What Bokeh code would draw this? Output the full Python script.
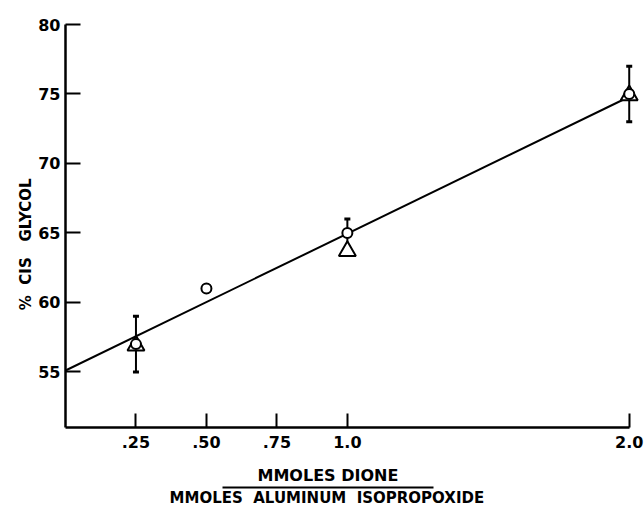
from bokeh.plotting import figure
from bokeh.models import LinearAxis, FixedTicker, Range1d
from bokeh.embed import file_html
from bokeh.resources import INLINE

# ---- data ----
ratio_circle = [0.25, 0.50, 1.0, 2.0]
cis_circle = [57.0, 61.0, 65.0, 75.0]
ratio_triangle = [0.25, 1.0, 2.0]
cis_triangle = [56.9, 63.7, 74.9]
err_x = [0.25, 1.0, 2.0]
err_low = [55.0, 64.0, 73.0]
err_high = [59.0, 66.0, 77.0]
fit_x = [0.0, 2.0]
fit_y = [55.1, 74.8]
x_ticks = [0.25, 0.5, 0.75, 1.0, 2.0]
x_tick_labels = [".25", ".50", ".75", "1.0", "2.0"]
y_ticks = [55, 60, 65, 70, 75, 80]
NB = "\u00a0"
y_label = "%" + NB + " CIS" + NB + NB + " GLYCOL" + NB * 7
x_label_top = "MMOLES DIONE" + NB * 9
x_label_bottom = "MMOLES" + NB + " ALUMINUM" + NB + " ISOPROPOXIDE" + NB * 10

FONT = "DejaVu Sans"

p = figure(width=644, height=509, output_backend="svg", toolbar_location=None,
           x_range=Range1d(0, 2.04), y_range=Range1d(51, 80),
           x_axis_location=None, y_axis_location=None,
           min_border_left=65, min_border_right=4, min_border_top=24, min_border_bottom=80)
p.outline_line_color = None
p.xgrid.visible = False
p.ygrid.visible = False
p.background_fill_color = "white"

# main y axis
yax = LinearAxis(ticker=FixedTicker(ticks=y_ticks))
yax.axis_line_width = 2.5
yax.major_tick_line_width = 2
yax.major_tick_in = 15
yax.major_tick_out = 0
yax.minor_tick_line_color = None
yax.major_label_standoff = 5
yax.major_label_text_font = FONT
yax.major_label_text_font_style = "bold"
yax.major_label_text_font_size = "16px"
yax.major_label_text_color = "black"
p.add_layout(yax, "left")

# y label axis (label only)
ylab = LinearAxis(ticker=FixedTicker(ticks=[]), axis_label=y_label)
ylab.axis_line_color = None
ylab.major_tick_line_color = None
ylab.minor_tick_line_color = None
ylab.major_tick_in = 0
ylab.major_tick_out = 0
ylab.major_label_standoff = 0
ylab.axis_label_standoff = 1
ylab.axis_label_text_font = FONT
ylab.axis_label_text_font_style = "bold"
ylab.axis_label_text_font_size = "15px"
ylab.axis_label_text_color = "black"
p.add_layout(ylab, "left")

# main x axis
xax = LinearAxis(ticker=FixedTicker(ticks=x_ticks), bounds=(0, 2.0))
xax.major_label_overrides = {t: s for t, s in zip(x_ticks, x_tick_labels)}
xax.axis_line_width = 2.5
xax.major_tick_line_width = 2
xax.major_tick_in = 14
xax.major_tick_out = 0
xax.minor_tick_line_color = None
xax.major_label_standoff = 8
xax.major_label_text_font = FONT
xax.major_label_text_font_style = "bold"
xax.major_label_text_font_size = "16px"
xax.major_label_text_color = "black"
p.add_layout(xax, "below")

# numerator label axis
ax_a = LinearAxis(ticker=FixedTicker(ticks=[]), bounds=(0.557, 1.305), axis_label=x_label_top)
ax_a.axis_line_color = None
ax_a.major_tick_line_color = None
ax_a.minor_tick_line_color = None
ax_a.major_tick_out = 0
ax_a.major_tick_in = 0
ax_a.major_label_standoff = 0
ax_a.axis_label_standoff = 15
ax_a.axis_label_text_font = FONT
ax_a.axis_label_text_font_style = "bold"
ax_a.axis_label_text_font_size = "16px"
ax_a.axis_label_text_color = "black"
p.add_layout(ax_a, "below")

# fraction bar + denominator label axis
ax_b = LinearAxis(ticker=FixedTicker(ticks=[]), bounds=(0.557, 1.305), axis_label=x_label_bottom)
ax_b.axis_line_width = 2
ax_b.major_tick_line_color = None
ax_b.minor_tick_line_color = None
ax_b.major_tick_out = 0
ax_b.major_tick_in = 0
ax_b.major_label_standoff = 0
ax_b.axis_label_standoff = 1
ax_b.axis_label_text_font = FONT
ax_b.axis_label_text_font_style = "bold"
ax_b.axis_label_text_font_size = "15px"
ax_b.axis_label_text_color = "black"
p.add_layout(ax_b, "below")

# fitted line
p.line(fit_x, fit_y, line_color="black", line_width=2)

# error bars
p.segment(x0=err_x, y0=err_low, x1=err_x, y1=err_high, line_color="black", line_width=2)
p.scatter(err_x + err_x, err_low + err_high, marker="dash", size=6, line_width=3, line_color="black")

# triangles
p.scatter(ratio_triangle, cis_triangle, marker="triangle", size=17,
          line_color="black", line_width=2, fill_color="white")
# circles
p.scatter(ratio_circle, cis_circle, marker="circle", size=10,
          line_color="black", line_width=2, fill_color="white")

open("out.html", "w").write(file_html(p, INLINE))
